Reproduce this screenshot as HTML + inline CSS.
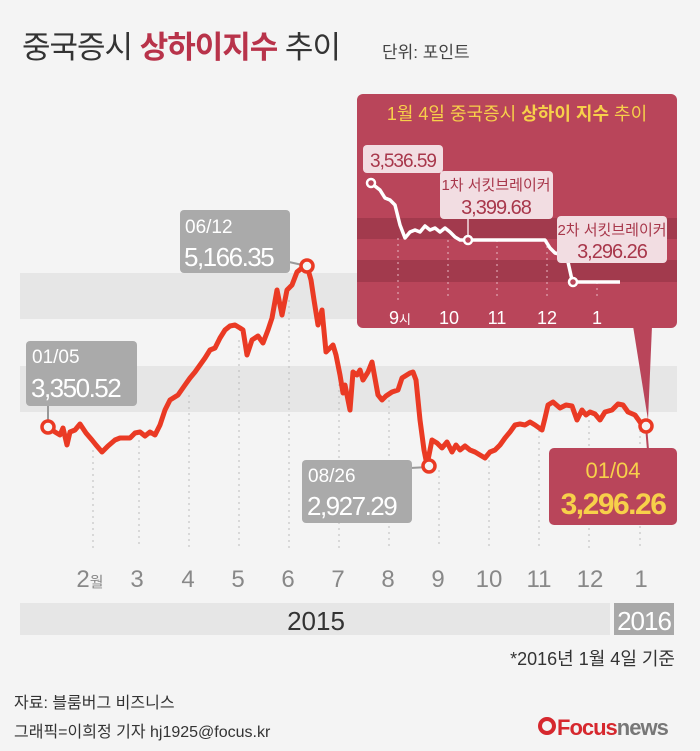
<!DOCTYPE html>
<html><head><meta charset="utf-8"><style>
body{margin:0;background:#f4f4f4}
svg{display:block}
text{font-family:"Liberation Sans","Noto Sans CJK KR",sans-serif}
</style></head><body>
<svg width="700" height="751" viewBox="0 0 700 751">
<rect width="700" height="751" fill="#f4f4f4"/>
<text x="22" y="58" font-size="31" fill="#333" letter-spacing="-1">중국증시 <tspan fill="#b8334a" font-weight="bold">상하이지수</tspan> 추이</text>
<text x="382" y="58" font-size="17" fill="#444">단위: 포인트</text>
<rect x="20" y="273" width="657" height="46" fill="#e6e6e6"/>
<rect x="20" y="366" width="657" height="46" fill="#e6e6e6"/>
<g stroke="#bbb" stroke-width="1" stroke-dasharray="2,4">
<line x1="93" y1="450" x2="93" y2="548"/><line x1="139" y1="440" x2="139" y2="548"/><line x1="189" y1="395" x2="189" y2="548"/><line x1="239" y1="340" x2="239" y2="548"/><line x1="289" y1="300" x2="289" y2="548"/><line x1="339" y1="360" x2="339" y2="548"/><line x1="389" y1="400" x2="389" y2="548"/><line x1="439" y1="470" x2="439" y2="548"/><line x1="489" y1="460" x2="489" y2="548"/><line x1="539" y1="430" x2="539" y2="548"/><line x1="589" y1="420" x2="589" y2="548"/><line x1="640" y1="430" x2="640" y2="548"/>
</g>
<polyline fill="none" stroke="#ea3a24" stroke-width="5" stroke-linejoin="round" points="48,427 55,432 60,435 63,428 67,445 70,432 75,430 80,424 86,433 92,440 96,445 102,452 108,446 115,440 120,438 130,438 135,433 140,432 145,436 150,432 155,435 160,425 165,410 170,400 178,395 185,385 190,378 195,372 200,365 205,358 210,350 215,348 220,338 225,330 230,326 235,325 240,328 243,330 247,355 252,340 258,336 263,343 268,330 272,318 277,290 282,315 287,290 292,285 297,272 302,268 307,266 311,280 314,300 318,325 322,310 326,352 330,348 333,345 336,355 340,375 343,393 345,385 350,410 353,372 357,375 360,370 363,380 368,372 372,362 378,395 382,400 386,396 392,392 398,390 402,378 410,373 413,372 416,380 420,420 424,450 427,465 432,440 437,443 442,448 447,442 452,452 456,445 460,450 465,446 470,450 475,452 480,455 485,458 490,452 495,450 500,445 505,438 510,432 515,425 520,424 525,425 530,422 535,425 542,430 545,418 548,405 553,402 560,408 566,405 572,406 577,420 582,410 586,415 590,412 595,414 600,420 605,412 612,410 618,404 623,405 628,412 635,415 640,422 646,426"/>
<!-- inset -->
<path d="M633,326 L652,326 L648,420 Z" fill="#b9455a"/>
<rect x="357" y="94" width="320" height="234" rx="6" fill="#b9455a"/>
<rect x="357" y="218" width="320" height="21" fill="#a23a4d"/>
<rect x="357" y="260" width="320" height="22" fill="#a23a4d"/>
<text x="517" y="120" font-size="18" fill="#f7d04a" text-anchor="middle">1월 4일 중국증시 <tspan font-weight="bold">상하이 지수</tspan> 추이</text>
<g stroke="#e8b8c2" stroke-width="1" stroke-dasharray="2,4">
<line x1="398" y1="238" x2="398" y2="300"/><line x1="448" y1="240" x2="448" y2="300"/><line x1="497" y1="240" x2="497" y2="300"/><line x1="547" y1="240" x2="547" y2="300"/><line x1="597" y1="282" x2="597" y2="300"/>
</g>
<g font-size="18" fill="#fff" text-anchor="middle"><text x="400" y="324">9<tspan font-size="13">시</tspan></text><text x="449" y="324">10</text><text x="497" y="324">11</text><text x="547" y="324">12</text><text x="597" y="324">1</text></g>
<polyline fill="none" stroke="#fff" stroke-width="3.5" stroke-linejoin="round" points="371,183 380,190 385,198 390,200 395,205 400,225 405,238 410,232 415,230 420,232 425,226 430,230 435,228 440,232 445,228 450,232 455,237 460,240 468,240 545,240 550,248 555,253 563,255 568,262 572,280 575,282 620,282"/>
<rect x="363" y="145" width="80" height="28" rx="4" fill="#f2dde2"/>
<text x="403" y="167" font-size="19" fill="#a8374b" text-anchor="middle" letter-spacing="-1">3,536.59</text>
<rect x="440" y="171" width="113" height="48" rx="4" fill="#f2dde2"/>
<text x="496" y="190" font-size="15" fill="#a8374b" text-anchor="middle">1차 서킷브레이커</text>
<text x="496" y="214" font-size="20" fill="#a8374b" text-anchor="middle" letter-spacing="-1">3,399.68</text>
<line x1="468" y1="219" x2="468" y2="238" stroke="#f2dde2" stroke-width="1.5"/>
<rect x="557" y="216" width="110" height="47" rx="4" fill="#f2dde2"/>
<text x="612" y="235" font-size="15" fill="#a8374b" text-anchor="middle">2차 서킷브레이커</text>
<text x="612" y="258" font-size="20" fill="#a8374b" text-anchor="middle" letter-spacing="-1">3,296.26</text>
<circle cx="371" cy="183" r="4" fill="#b9455a" stroke="#fff" stroke-width="2.5"/>
<circle cx="468" cy="240" r="4" fill="#b9455a" stroke="#fff" stroke-width="2.5"/>
<circle cx="573" cy="282" r="4" fill="#b9455a" stroke="#fff" stroke-width="2.5"/>
<!-- callouts -->
<line x1="48" y1="406" x2="48" y2="427" stroke="#999" stroke-width="2"/>
<rect x="26" y="341" width="111" height="65" rx="4" fill="#aaa"/>
<text x="32" y="363" font-size="19" fill="#fff">01/05</text>
<text x="31" y="397" font-size="26" fill="#fff" letter-spacing="-1.5">3,350.52</text>
<line x1="289" y1="262" x2="307" y2="266" stroke="#999" stroke-width="2"/>
<rect x="180" y="210" width="110" height="63" rx="4" fill="#aaa"/>
<text x="185" y="233" font-size="19" fill="#fff">06/12</text>
<text x="184" y="266" font-size="26" fill="#fff" letter-spacing="-1.5">5,166.35</text>
<line x1="410" y1="468" x2="429" y2="467" stroke="#999" stroke-width="2"/>
<rect x="302" y="460" width="110" height="63" rx="4" fill="#aaa"/>
<text x="308" y="482" font-size="19" fill="#fff">08/26</text>
<text x="307" y="515" font-size="26" fill="#fff" letter-spacing="-1.5">2,927.29</text>
<line x1="646" y1="426" x2="648" y2="450" stroke="#b9455a" stroke-width="2"/>
<rect x="549" y="448" width="128" height="77" rx="5" fill="#b9455a"/>
<text x="613" y="478" font-size="22" fill="#f7d04a" text-anchor="middle">01/04</text>
<text x="613" y="514" font-size="30" fill="#f7d04a" text-anchor="middle" font-weight="bold" letter-spacing="-1.5">3,296.26</text>
<g fill="#f4f4f4" stroke="#ea3a24" stroke-width="3.5">
<circle cx="48" cy="427" r="6"/><circle cx="307" cy="266" r="6"/><circle cx="429" cy="466" r="6"/><circle cx="646" cy="426" r="6"/>
</g>
<!-- axis -->
<g font-size="24" fill="#888" text-anchor="middle">
<text x="90" y="587">2<tspan font-size="15">월</tspan></text><text x="137" y="587">3</text><text x="188" y="587">4</text><text x="238" y="587">5</text><text x="288" y="587">6</text><text x="338" y="587">7</text><text x="388" y="587">8</text><text x="438" y="587">9</text><text x="489" y="587">10</text><text x="539" y="587">11</text><text x="590" y="587">12</text><text x="641" y="587">1</text>
</g>
<rect x="20" y="603" width="590" height="32" fill="#e6e6e6"/>
<text x="316" y="630" font-size="26" fill="#333" text-anchor="middle">2015</text>
<rect x="614" y="603" width="60" height="32" fill="#a8a8a8"/>
<text x="644" y="630" font-size="26" fill="#fff" text-anchor="middle" letter-spacing="-1">2016</text>
<text x="675" y="665" font-size="18" fill="#333" text-anchor="end">*2016년 1월 4일 기준</text>
<text x="14" y="708" font-size="16" fill="#333">자료: 블룸버그 비즈니스</text>
<text x="14" y="737" font-size="16" fill="#333">그래픽=이희정 기자 hj1925@focus.kr</text>
<circle cx="547" cy="726" r="7" fill="none" stroke="#d6282e" stroke-width="4"/>
<text x="557" y="735" font-size="22" font-weight="bold" fill="#d6282e" letter-spacing="-1">Focus<tspan fill="#777">news</tspan></text>
</svg>
</body></html>
